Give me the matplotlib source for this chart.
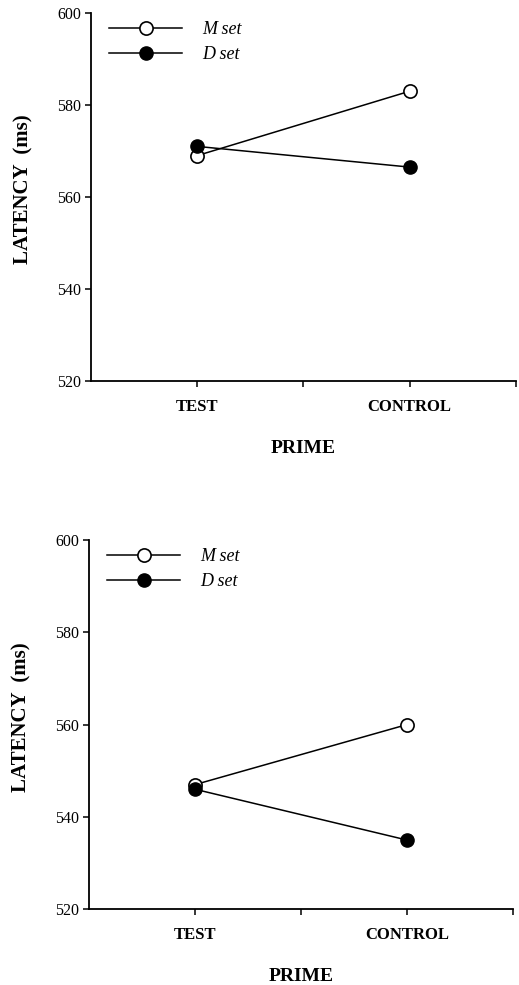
import matplotlib
matplotlib.use("Agg")
import matplotlib.pyplot as plt

plt.rcParams['font.family'] = ['Liberation Serif', 'DejaVu Serif']

primes = ['TEST', 'CONTROL']
set_labels = ['M set', 'D set']

# top panel
top_m = [569, 583]
top_d = [571, 566.5]
# bottom panel
bot_m = [547, 560]
bot_d = [546, 535]

yticks = [520, 540, 560, 580, 600]

fig = plt.figure(figsize=(5.19, 9.85), dpi=100)
ax_top = fig.add_axes([0.1753, 0.6132, 0.8187, 0.3736])
ax_bot = fig.add_axes([0.1715, 0.0769, 0.8165, 0.3749])


def draw_panel(ax, m_vals, d_vals):
    xs = [1, 3]
    ax.plot(xs, m_vals, '-o', color='black', lw=1.1, ms=9.5,
            mfc='white', mec='black', mew=1.2, label=set_labels[0], zorder=3)
    ax.plot(xs, d_vals, '-o', color='black', lw=1.1, ms=9.5,
            mfc='black', mec='black', label=set_labels[1], zorder=4)
    ax.set_xlim(0, 4)
    ax.set_ylim(520, 600)
    ax.set_yticks(yticks)
    ax.set_yticklabels([str(v) for v in yticks], fontsize=11.5)
    ax.set_xticks([1, 2, 3, 4])
    ax.set_xticklabels([primes[0], '', primes[1], ''], fontsize=12,
                       fontweight='bold')
    ax.spines['top'].set_visible(False)
    ax.spines['right'].set_visible(False)
    for s in ['left', 'bottom']:
        ax.spines[s].set_linewidth(1.3)
    ax.tick_params(direction='out', length=4, width=1.1, pad=3)
    ax.tick_params(axis='x', pad=9)
    ax.set_ylabel('LATENCY  (ms)', fontsize=15, fontweight='bold')
    ax.yaxis.set_label_coords(-0.135, 0.52)
    ax.set_xlabel('PRIME', fontsize=14, fontweight='bold', labelpad=18)
    ax.legend(loc='upper left', bbox_to_anchor=(0.018, 1.008), frameon=False,
              handlelength=4.0, handletextpad=1.15, labelspacing=0.45,
              borderpad=0.1, prop={'style': 'italic', 'size': 13})


draw_panel(ax_top, top_m, top_d)
draw_panel(ax_bot, bot_m, bot_d)

fig.savefig('out.png', dpi=100)
